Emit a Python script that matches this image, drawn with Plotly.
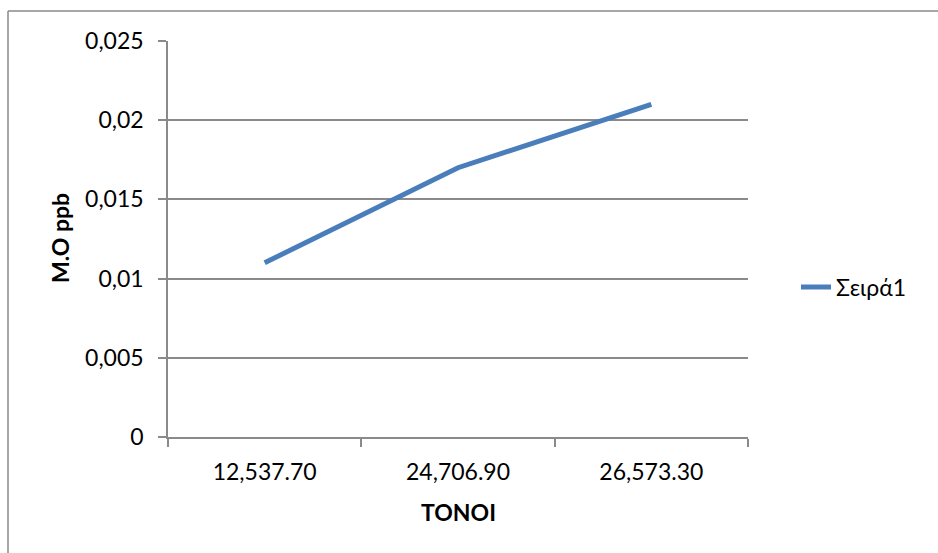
import plotly.graph_objects as go

# Tonnage categories and mean values (ppb)
categories = ["12,537.70", "24,706.90", "26,573.30"]
mean_ppb = [0.011, 0.017, 0.021]
series_name = "Σειρά1"
y_tick_vals = [0, 0.005, 0.01, 0.015, 0.02, 0.025]
y_tick_text = ["0", "0,005", "0,01", "0,015", "0,02", "0,025"]

FONT = "Lato"
FS = 23
GRID = "#8a8a8a"
W, H = 938, 553
L, R, T, B = 168, 190, 41, 116
pw, ph = W - L - R, H - T - B


def px_x(x):
    return (x - L) / pw


def px_y(y):
    return (H - B - y) / ph


fig = go.Figure()
fig.add_trace(go.Scatter(
    x=categories, y=mean_ppb, mode="lines", name=series_name,
    line=dict(color="#4A7EBB", width=5),
))

fig.update_layout(
    width=W, height=H,
    margin=dict(l=L, r=R, t=T, b=B),
    paper_bgcolor="white", plot_bgcolor="white",
    font=dict(family=FONT, size=FS, color="black"),
    showlegend=True,
    legend=dict(x=px_x(796), y=px_y(287), xanchor="left", yanchor="middle",
                font=dict(size=FS), bgcolor="rgba(0,0,0,0)"),
    xaxis=dict(
        type="category", range=[-0.5, 2.5], tickson="boundaries",
        showgrid=False, showline=True, linecolor=GRID, linewidth=1.5,
        ticks="outside", ticklen=8, tickcolor=GRID, tickwidth=1.5,
        ticklabelstandoff=14, zeroline=False,
    ),
    yaxis=dict(
        range=[0, 0.025], tickvals=y_tick_vals, ticktext=y_tick_text,
        showgrid=True, gridcolor=GRID, gridwidth=1.5,
        showline=True, linecolor=GRID, linewidth=1.5,
        ticks="outside", ticklen=8, tickcolor=GRID, tickwidth=1.5,
        ticklabelstandoff=10, zeroline=False,
    ),
    annotations=[
        dict(text="<b>TONOI</b>", xref="paper", yref="paper",
             x=px_x(458), y=px_y(512), xanchor="center", yanchor="middle",
             showarrow=False, font=dict(size=FS)),
        dict(text="<b>M.O ppb</b>", xref="paper", yref="paper",
             x=px_x(60), y=px_y(238), xanchor="center", yanchor="middle",
             textangle=-90, showarrow=False, font=dict(size=FS)),
    ],
    shapes=[
        dict(type="line", xref="paper", yref="paper",
             x0=px_x(8), x1=px_x(8), y0=px_y(11), y1=px_y(560),
             line=dict(color=GRID, width=1.5)),
        dict(type="line", xref="paper", yref="paper",
             x0=px_x(8), x1=px_x(945), y0=px_y(11), y1=px_y(11),
             line=dict(color=GRID, width=1.5)),
    ],
)

fig.write_html("out.html")
